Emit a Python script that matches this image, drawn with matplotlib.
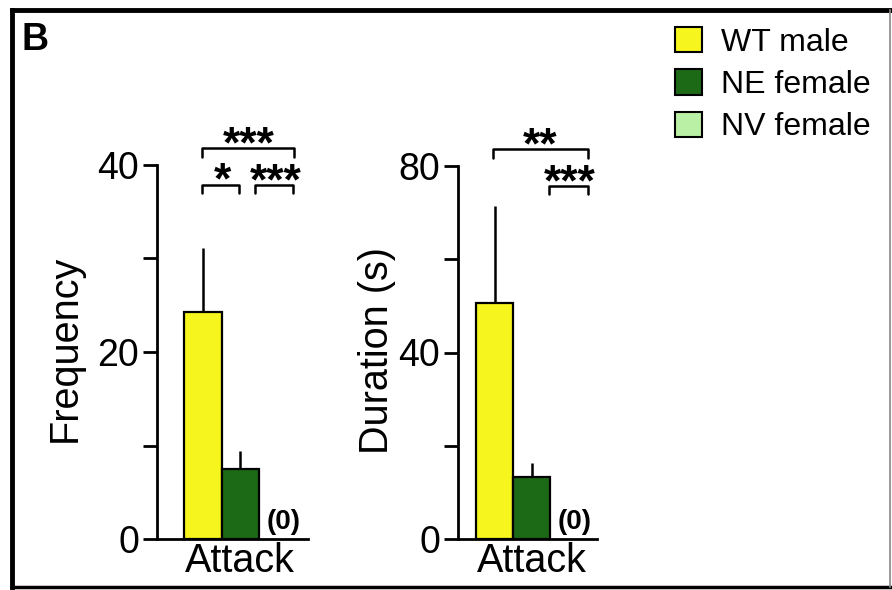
import matplotlib
matplotlib.use("Agg")
import matplotlib.pyplot as plt
from matplotlib.patches import Patch
from matplotlib.lines import Line2D
from matplotlib.textpath import TextPath
from matplotlib.font_manager import FontProperties

plt.rcParams['font.family'] = ['Liberation Sans', 'DejaVu Sans']

# ---- data ----
category = ['Attack']
groups = ['WT male', 'NE female', 'NV female']
colors = ['#f7f51e', '#1c6a16', '#b9f0a6']
freq_mean = [24.3, 7.5, 0.0]
freq_err = [6.8, 1.9, 0.0]
dur_mean = [50.7, 13.3, 0.0]
dur_err = [20.7, 3.0, 0.0]
freq_ticks = [0, 10, 20, 30, 40]
freq_ticklabels = ['0', '', '20', '', '40']
dur_ticks = [0, 20, 40, 60, 80]
dur_ticklabels = ['0', '', '40', '', '80']
offsets = [-1, 0, 1]

W, H = 892, 590
fig = plt.figure(figsize=(W / 100, H / 100), dpi=100)

def fx(px):
    return px / W

def fy(py):
    return 1 - py / H

TICK_FS = 27
LAB_FS = 28.5
STAR_FS = 32
STAR_PROP = FontProperties(family='Liberation Sans', weight='bold')

def panel(rect, means, errs, ymax, ticks, ticklabels, ylabel, xlim, labelx, labely):
    ax = fig.add_axes(rect)
    for off, m, e, c in zip(offsets, means, errs, colors):
        if m > 0:
            ax.bar(off, m, width=1.0, color=c, edgecolor='black', linewidth=1.6, zorder=3)
            ax.errorbar(off, m, yerr=[[0], [e]], fmt='none', ecolor='black',
                        elinewidth=1.8, capsize=0, zorder=2)
        else:
            ax.text(off + 0.16, m + ymax * 0.012, '(0)', ha='center', va='bottom',
                    fontsize=20, fontweight='bold')
    ax.set_xlim(*xlim)
    ax.set_ylim(0, ymax)
    ax.set_yticks(ticks)
    ax.set_yticklabels(ticklabels, fontsize=TICK_FS)
    ax.set_xticks([0])
    ax.set_xticklabels(category, fontsize=LAB_FS)
    ax.tick_params(axis='x', length=0, pad=2)
    ax.tick_params(axis='y', length=10, width=2.0, pad=3)
    for s in ['top', 'right']:
        ax.spines[s].set_visible(False)
    for s in ['left', 'bottom']:
        ax.spines[s].set_linewidth(2.0)
    ax.set_ylabel(ylabel, fontsize=LAB_FS)
    ax.yaxis.set_label_coords(labelx, labely)
    ax.patch.set_alpha(0)
    return ax

ax1 = panel([fx(157), fy(539), fx(308) - fx(157), fy(165) - fy(539)],
            freq_mean, freq_err, 40, freq_ticks, freq_ticklabels, 'Frequency',
            (-2.23, 1.82), -0.483, 0.509)
ax2 = panel([fx(458), fy(539), fx(597) - fx(458), fy(166) - fy(539)],
            dur_mean, dur_err, 80, dur_ticks, dur_ticklabels, 'Duration (s)',
            (-1.99, 1.77), -0.446, 0.505)

def bracket(ax, x0, x1, y, drop, label, tx, ty):
    ax.plot([x0, x0, x1, x1], [y - drop, y, y, y - drop], color='black',
            linewidth=1.8, clip_on=False, solid_joinstyle='round',
            solid_capstyle='round')
    ext = TextPath((0, 0), label, size=STAR_FS, prop=STAR_PROP).get_extents()
    mid = (ext.y0 + ext.y1) / 2
    ax.annotate(label, xy=(tx, ty), xytext=(0, -mid), textcoords='offset points',
                ha='center', va='baseline', fontsize=STAR_FS, fontweight='bold',
                annotation_clip=False)

# left panel significance
bracket(ax1, -1.02, 1.44, 41.8, 0.9, '***', 0.223, 43.2)
bracket(ax1, -1.02, -0.03, 37.9, 0.9, '*', -0.487, 39.3)
bracket(ax1, 0.40, 1.42, 37.9, 0.9, '***', 0.96, 39.25)
# right panel significance
bracket(ax2, -1.04, 1.52, 83.6, 1.8, '**', 0.24, 86.5)
bracket(ax2, 0.47, 1.52, 75.7, 1.8, '***', 1.02, 78.5)

# panel letter
fig.text(fx(21), fy(50), 'B', fontsize=27, fontweight='bold', ha='left', va='baseline')

# legend
handles = [Patch(facecolor=c, edgecolor='black', linewidth=1.5) for c in colors]
fig.legend(handles, groups, loc='upper left', bbox_to_anchor=(fx(675), fy(27)),
           frameon=False, fontsize=23, handlelength=0.85, handleheight=0.85,
           handletextpad=0.6, labelspacing=0.36, borderpad=0, borderaxespad=0)

# outer frame
fig.add_artist(Line2D([fx(12), fx(890)], [fy(10), fy(10)], color='black', linewidth=3.5))
fig.add_artist(Line2D([fx(12), fx(12)], [fy(10), fy(587)], color='black', linewidth=3.5))
fig.add_artist(Line2D([fx(12), fx(890)], [fy(587), fy(587)], color='black', linewidth=2.5))
fig.add_artist(Line2D([fx(890), fx(890)], [fy(10), fy(587)], color='#888888', linewidth=1.2))

fig.savefig('out.png', dpi=100)
